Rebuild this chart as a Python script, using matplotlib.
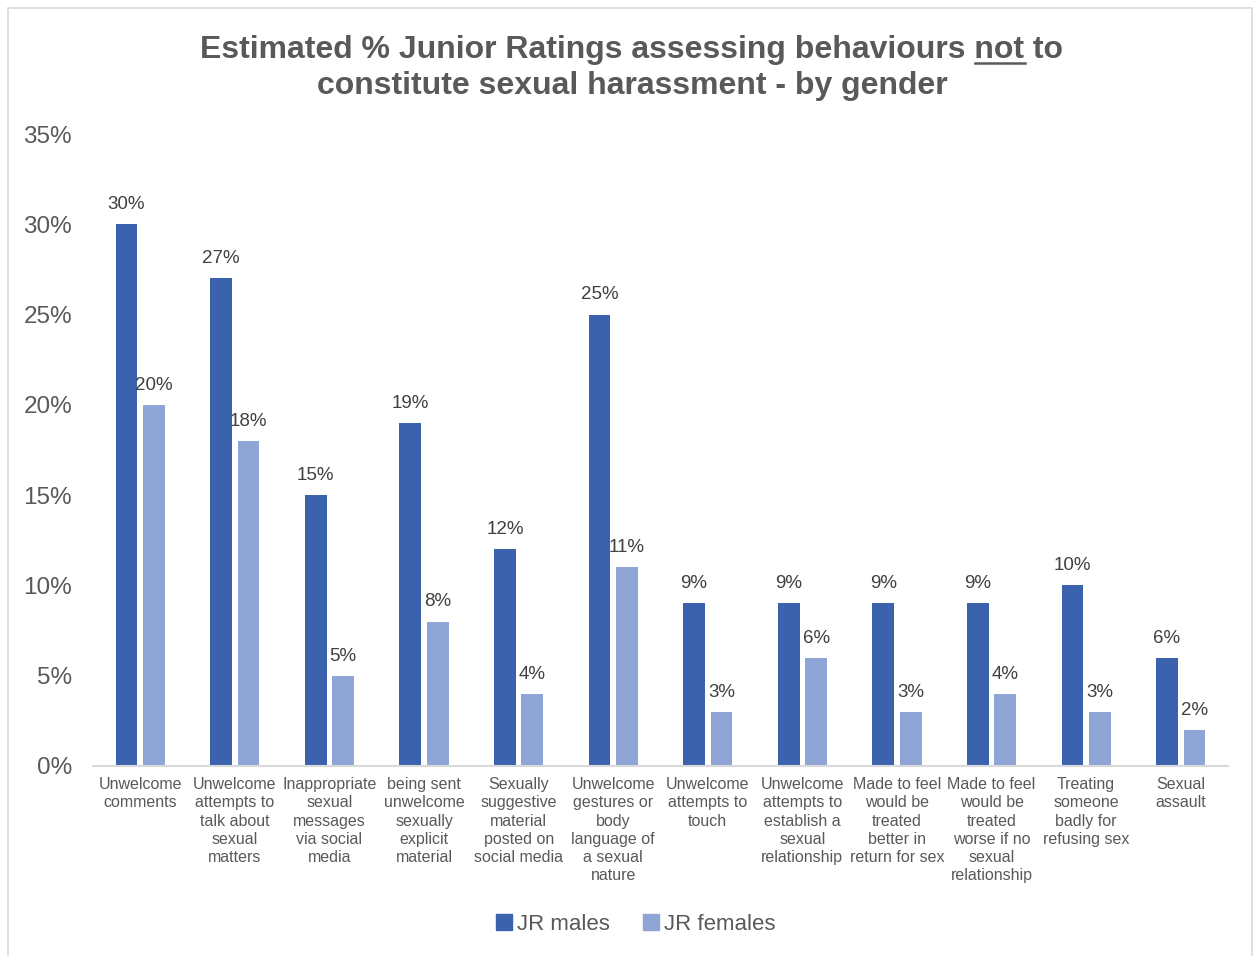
import matplotlib
matplotlib.use("Agg")
import matplotlib.pyplot as plt
from matplotlib.patches import Patch, Rectangle
from matplotlib.lines import Line2D
import numpy as np

plt.rcParams['font.family'] = ['Liberation Sans', 'DejaVu Sans']

categories = [
    "Unwelcome\ncomments",
    "Unwelcome\nattempts to\ntalk about\nsexual\nmatters",
    "Inappropriate\nsexual\nmessages\nvia social\nmedia",
    "being sent\nunwelcome\nsexually\nexplicit\nmaterial",
    "Sexually\nsuggestive\nmaterial\nposted on\nsocial media",
    "Unwelcome\ngestures or\nbody\nlanguage of\na sexual\nnature",
    "Unwelcome\nattempts to\ntouch",
    "Unwelcome\nattempts to\nestablish a\nsexual\nrelationship",
    "Made to feel\nwould be\ntreated\nbetter in\nreturn for sex",
    "Made to feel\nwould be\ntreated\nworse if no\nsexual\nrelationship",
    "Treating\nsomeone\nbadly for\nrefusing sex",
    "Sexual\nassault",
]
jr_males = [30, 27, 15, 19, 12, 25, 9, 9, 9, 9, 10, 6]
jr_females = [20, 18, 5, 8, 4, 11, 3, 6, 3, 4, 3, 2]
yticks = [0, 5, 10, 15, 20, 25, 30, 35]

c_m = "#3B63AD"
c_f = "#8FA5D5"
tcol = "#595959"

W, H = 1257, 956
fig = plt.figure(figsize=(W / 100, H / 100), dpi=100)
ax = fig.add_axes([93 / W, 1 - 766 / H, (1228 - 93) / W, (766 - 134) / H])

x = np.arange(len(categories))
bw = 0.23
off = 0.145
bm = ax.bar(x - off, jr_males, bw, color=c_m, label="JR males")
bf = ax.bar(x + off, jr_females, bw, color=c_f, label="JR females")

for bars, vals in ((bm, jr_males), (bf, jr_females)):
    for b, v in zip(bars, vals):
        ax.annotate(f"{v}%", (b.get_x() + b.get_width() / 2, v),
                    xytext=(0, 8), textcoords="offset points",
                    ha="center", va="bottom", fontsize=13.5, color="#404040")

ax.set_xlim(-0.5, len(categories) - 0.5)
ax.set_ylim(0, 35)
ax.set_yticks(yticks)
ax.set_yticklabels([f"{t}%" for t in yticks], fontsize=17.5, color=tcol)
ax.set_xticks(x)
ax.set_xticklabels(categories, fontsize=11.5, color=tcol)
for lab in ax.get_xticklabels():
    lab.set_linespacing(1.27)
ax.tick_params(axis="both", length=0)
ax.tick_params(axis="x", pad=8)
ax.tick_params(axis="y", pad=15)
for s in ("top", "right", "left"):
    ax.spines[s].set_visible(False)
ax.spines["bottom"].set_color("#D9D9D9")
ax.spines["bottom"].set_linewidth(1.5)

# figure border
fig.patches.append(Rectangle((8 / W, -0.05), (1252 - 8) / W, 1.05 - 8 / H,
                             transform=fig.transFigure, fill=False,
                             edgecolor="#D9D9D9", linewidth=1.2, clip_on=False))

# Title with underlined "not"
TFS = 23
line1 = "Estimated % Junior Ratings assessing behaviours not to"
line2 = "constitute sexual harassment - by gender"
tkw = dict(fontsize=TFS, fontweight="bold", color=tcol, ha="center", va="baseline")
cx = 632 / W
fig.text(cx, 1 - 58 / H, line1, **tkw)
fig.text(cx, 1 - 94 / H, line2, **tkw)

fig.canvas.draw()
r = fig.canvas.get_renderer()

def width_px(s):
    t = fig.text(0, 0, s, fontsize=TFS, fontweight="bold")
    w = t.get_window_extent(renderer=r).width
    t.remove()
    return w

wfull = width_px(line1)
wpre = width_px("Estimated % Junior Ratings assessing behaviours not")
wnot = width_px("not")
left = cx * W - wfull / 2
x_end = left + wpre
x_start = x_end - wnot
uy = 1 - 63 / H
fig.add_artist(Line2D([x_start / W, x_end / W], [uy, uy], transform=fig.transFigure,
                      color=tcol, linewidth=1.8))

handles = [Patch(color=c_m, label="JR males"), Patch(color=c_f, label="JR females")]
fig.legend(handles=handles, loc="center", bbox_to_anchor=(636 / W, 1 - 924 / H),
           ncol=2, frameon=False, fontsize=16, handlelength=0.7, handleheight=0.7,
           handletextpad=0.25, columnspacing=1.5, labelcolor=tcol)

fig.savefig("out.png", dpi=100)
